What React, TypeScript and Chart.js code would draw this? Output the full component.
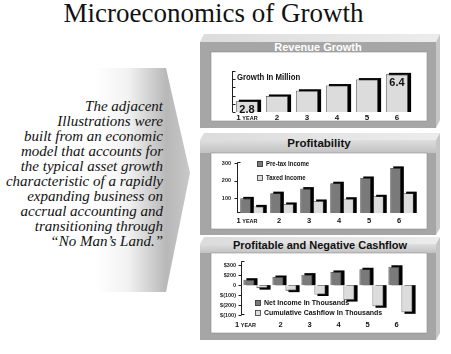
import React, { useEffect, useRef } from "react";
import { Chart, registerables } from "chart.js";
Chart.register(...registerables);

// ---------- data ----------
const years = ["1", "2", "3", "4", "5", "6"];
const yearWord = "YEAR";

const revenue = [2.8, 3.5, 4.2, 4.9, 5.7, 6.4];
const revenueLabels = ["2.8", "", "", "", "", "6.4"];
const revenueTicks = [1.35, 2.45, 3.55, 4.65, 5.75, 6.85];

const pretaxIncome = [98, 128, 154, 185, 215, 273];
const taxedIncome = [52, 66, 83, 96, 110, 128];
const profitTicks = [100, 200, 300];

const netIncome = [55, 82, 106, 133, 160, 185];
const cumulativeCashflow = [-30, -55, -94, -150, -212, -273];
const cashTickValues = [200, 100, 0, -100, -200, -300];
const cashTickLabels = ["$300", "$200", "0", "$(100)", "$(200)", "$(100)"];

const sideText = [
  "The adjacent",
  "Illustrations were",
  "built from an economic",
  "model that accounts for",
  "the typical asset growth",
  "characteristic of a rapidly",
  "expanding business on",
  "accrual accounting and",
  "transitioning through",
  "\u201CNo Man\u2019s Land.\u201D",
];

// ---------- styles ----------
const SANS = "'Liberation Sans', Arial, Helvetica, sans-serif";
const SERIF = "'Liberation Serif', 'Times New Roman', serif";
const DARK = "#7a7a7a";
const LIGHT = "#dcdcdc";
const EDGE = "#3a3a3a";

function narrowText(ctx: CanvasRenderingContext2D, text: string, x: number, y: number, sx: number) {
  ctx.save();
  ctx.translate(x, y);
  ctx.scale(sx, 1);
  ctx.fillText(text, 0, 0);
  ctx.restore();
}

// ---------- plugins ----------
const bar3d = {
  id: "bar3d",
  beforeDatasetsDraw(chart: any) {
    const ctx = chart.ctx;
    const ca = chart.chartArea;
    const dx = 3,
      dy = 1.5;
    ctx.save();
    ctx.beginPath();
    ctx.rect(ca.left, ca.top - 3, ca.right - ca.left + 6, ca.bottom - ca.top + 6);
    ctx.clip();
    ctx.fillStyle = "#000";
    const bottom = ca.bottom;
    chart.data.datasets.forEach((_: any, i: number) => {
      const meta = chart.getDatasetMeta(i);
      meta.data.forEach((el: any) => {
        const { x, y, base, width } = el.getProps(["x", "y", "base", "width"], true);
        const l = x - width / 2 + dx;
        if (y <= base) {
          const b = Math.min(base, bottom);
          ctx.fillRect(l, y - dy, width, b - y + dy);
        } else ctx.fillRect(l, base, width, y - base + dy);
      });
    });
    ctx.restore();
  },
};

const bracket = {
  id: "bracket",
  afterDatasetsDraw(chart: any, _a: any, o: any) {
    if (!o || !o.ticks) return;
    const s = chart.scales.y;
    const ca = chart.chartArea;
    const ctx = chart.ctx;
    const x = Math.round(ca.left + (o.shift || 0)) + 0.5;
    ctx.save();
    ctx.strokeStyle = "#222";
    ctx.lineWidth = 1;
    ctx.beginPath();
    ctx.moveTo(x, ca.top);
    ctx.lineTo(x, ca.bottom);
    o.ticks.forEach((v: number) => {
      const py = Math.round(s.getPixelForValue(v)) + 0.5;
      ctx.moveTo(x, py);
      ctx.lineTo(x + o.dir * o.len, py);
    });
    if (o.ends) {
      const t = Math.round(ca.top) + 0.5;
      const b = Math.round(ca.bottom) - 0.5;
      ctx.moveTo(x, t);
      ctx.lineTo(x + 3, t);
      ctx.moveTo(x, b);
      ctx.lineTo(x + 3, b);
    }
    ctx.stroke();
    ctx.restore();
  },
};

const yearLabels = {
  id: "yearLabels",
  afterDraw(chart: any, _a: any, o: any) {
    if (!o || !o.size) return;
    const s = chart.scales.x;
    const ctx = chart.ctx;
    const by = chart.chartArea.bottom + o.offset;
    ctx.save();
    ctx.fillStyle = "#111";
    ctx.textAlign = "left";
    ctx.textBaseline = "alphabetic";
    (chart.data.labels as string[]).forEach((lab, i) => {
      const cx = s.getPixelForValue(i) + (i === 0 ? o.shift0 || 0 : o.shift || 0);
      const main = String(lab);
      const suffix = i === 0 ? " " + yearWord : "";
      ctx.font = `bold ${o.size}px ${SANS}`;
      const w1 = ctx.measureText(main).width;
      ctx.font = `bold ${o.small}px ${SANS}`;
      const w2 = suffix ? ctx.measureText(suffix).width : 0;
      const start = cx - (w1 + w2) / 2;
      ctx.font = `bold ${o.size}px ${SANS}`;
      ctx.fillText(main, start, by);
      if (suffix) {
        ctx.font = `bold ${o.small}px ${SANS}`;
        ctx.fillText(suffix, start + w1, by);
      }
    });
    ctx.restore();
  },
};

const innerLegend = {
  id: "innerLegend",
  afterDraw(chart: any, _a: any, o: any) {
    if (!o || o.x === undefined) return;
    const ctx = chart.ctx;
    ctx.save();
    ctx.font = `bold ${o.size}px ${SANS}`;
    ctx.textBaseline = "middle";
    chart.data.datasets.forEach((ds: any, i: number) => {
      const y = o.y + i * o.step;
      ctx.fillStyle = ds.backgroundColor;
      ctx.fillRect(o.x, y, o.box, o.box);
      ctx.strokeStyle = EDGE;
      ctx.lineWidth = 0.8;
      ctx.strokeRect(o.x + 0.5, y + 0.5, o.box - 1, o.box - 1);
      ctx.fillStyle = "#111";
      narrowText(ctx, ds.label, o.x + o.box + 3, y + o.box / 2 + 0.5, o.sx);
    });
    ctx.restore();
  },
};

const captions = {
  id: "captions",
  afterDraw(chart: any, _a: any, o: any) {
    if (!o || !o.items) return;
    const ctx = chart.ctx;
    ctx.save();
    o.items.forEach((it: any) => {
      ctx.font = it.font;
      ctx.fillStyle = "#111";
      ctx.textAlign = "left";
      ctx.textBaseline = "middle";
      narrowText(ctx, it.text, it.x, it.y, it.sx);
    });
    if (o.values) {
      const meta = chart.getDatasetMeta(0);
      ctx.font = `bold 11px ${SANS}`;
      ctx.textAlign = "center";
      ctx.textBaseline = "top";
      meta.data.forEach((el: any, i: number) => {
        const t = o.values[i];
        if (!t) return;
        ctx.fillText(t, el.x, el.y + 3);
      });
    }
    ctx.restore();
  },
};

Chart.register(bar3d, bracket, yearLabels, innerLegend, captions);

// ---------- chart configs ----------
function revenueConfig(): any {
  return {
    type: "bar",
    data: {
      labels: years,
      datasets: [
        {
          label: "Revenue",
          data: revenue,
          backgroundColor: LIGHT,
          borderColor: EDGE,
          borderWidth: 0.8,
          barPercentage: 0.74,
          categoryPercentage: 1,
        },
      ],
    },
    options: {
      animation: false,
      responsive: false,
      devicePixelRatio: 1,
      layout: { padding: { left: 21, right: 15, top: 19, bottom: 9 } },
      scales: {
        x: { display: false },
        y: { display: false, min: 1.35, max: 6.85 },
      },
      plugins: {
        legend: { display: false },
        tooltip: { enabled: false },
        bracket: { ticks: revenueTicks, dir: 1, len: 3 },
        yearLabels: { size: 8, small: 5.5, offset: 8 },
        captions: {
          items: [{ text: "Growth In Million", x: 26, y: 25, font: `bold 9.5px ${SANS}`, sx: 0.82 }],
          values: revenueLabels,
        },
      },
    },
  };
}

function profitConfig(): any {
  return {
    type: "bar",
    data: {
      labels: years,
      datasets: [
        {
          label: "Pre-tax Income",
          data: pretaxIncome,
          backgroundColor: DARK,
          borderColor: EDGE,
          borderWidth: 0.8,
          barPercentage: 0.82,
          categoryPercentage: 0.86,
        },
        {
          label: "Taxed Income",
          data: taxedIncome,
          backgroundColor: LIGHT,
          borderColor: EDGE,
          borderWidth: 0.8,
          barPercentage: 0.82,
          categoryPercentage: 0.86,
        },
      ],
    },
    options: {
      animation: false,
      responsive: false,
      devicePixelRatio: 1,
      layout: { padding: { left: 0, right: 10, top: 5, bottom: 16 } },
      scales: {
        x: { display: false },
        y: {
          min: 14,
          max: 305,
          grid: { display: false, drawTicks: false },
          border: { display: false },
          afterFit: (s: any) => {
            s.width = 26;
          },
          afterBuildTicks: (s: any) => {
            s.ticks = profitTicks.map((v) => ({ value: v }));
          },
          ticks: {
            padding: 6,
            color: "#222",
            font: { family: SANS, size: 5.5, weight: "bold" },
          },
        },
      },
      plugins: {
        legend: { display: false },
        tooltip: { enabled: false },
        bracket: { ticks: profitTicks, dir: -1, len: 3, ends: true },
        yearLabels: { size: 7.5, small: 5.5, offset: 10, shift0: -5, shift: -3 },
        innerLegend: { x: 46, y: 8, step: 14, box: 6, size: 7, sx: 0.86 },
      },
    },
  };
}

function cashConfig(): any {
  return {
    type: "bar",
    data: {
      labels: years,
      datasets: [
        {
          label: "Net Income In Thousands",
          data: netIncome,
          backgroundColor: DARK,
          borderColor: EDGE,
          borderWidth: 0.8,
          barPercentage: 0.85,
          categoryPercentage: 0.9,
        },
        {
          label: "Cumulative Cashflow In Thousands",
          data: cumulativeCashflow,
          backgroundColor: LIGHT,
          borderColor: EDGE,
          borderWidth: 0.8,
          barPercentage: 0.85,
          categoryPercentage: 0.9,
        },
      ],
    },
    options: {
      animation: false,
      responsive: false,
      devicePixelRatio: 1,
      layout: { padding: { left: 0, right: 12, top: 4, bottom: 18 } },
      scales: {
        x: { display: false },
        y: {
          min: -300,
          max: 240,
          grid: { display: false, drawTicks: false },
          border: { display: false },
          afterFit: (s: any) => {
            s.width = 30;
          },
          afterBuildTicks: (s: any) => {
            s.ticks = cashTickValues.map((v) => ({ value: v }));
          },
          ticks: {
            padding: 5,
            color: "#222",
            font: { family: SANS, size: 5.5, weight: "bold" },
            callback: (v: any) => {
              const i = cashTickValues.indexOf(Number(v));
              return i >= 0 ? cashTickLabels[i] : "";
            },
          },
        },
      },
      plugins: {
        legend: { display: false },
        tooltip: { enabled: false },
        bracket: { ticks: cashTickValues, dir: -1, len: 3, ends: true },
        yearLabels: { size: 7.5, small: 5.5, offset: 12, shift0: -10, shift: -4 },
        innerLegend: { x: 44, y: 47, step: 10, box: 6, size: 7, sx: 1 },
      },
    },
  };
}

// ---------- components ----------
function ChartBox(props: { left: number; top: number; width: number; height: number; make: () => any }) {
  const ref = useRef<HTMLCanvasElement>(null);
  useEffect(() => {
    const chart = new Chart(ref.current as HTMLCanvasElement, props.make());
    return () => chart.destroy();
  }, []);
  return (
    <canvas
      ref={ref}
      width={props.width}
      height={props.height}
      style={{ position: "absolute", left: props.left, top: props.top, width: props.width, height: props.height }}
    />
  );
}

type PanelGeo = { L: number; T: number; R: number; B: number; d: number; wl: number; wt: number; wr: number; wb: number; light: boolean };

const panels: PanelGeo[] = [
  { L: 200, T: 34, R: 436, B: 128, d: 8, wl: 211, wt: 52, wr: 427, wb: 121, light: false },
  { L: 200, T: 133, R: 436, B: 235, d: 7, wl: 211, wt: 153, wr: 427, wb: 229, light: true },
  { L: 200, T: 237, R: 436, B: 340, d: 7, wl: 211, wt: 253, wr: 427, wb: 333, light: true },
];

function PanelShape({ p }: { p: PanelGeo }) {
  const { L, T, R, B, d } = p;
  return (
    <g>
      <polygon points={`${L},${T + d} ${L + 4},${T} ${R + 4},${T} ${R},${T + d}`} fill="url(#topGrad)" />
      <polygon points={`${R},${T + d} ${R + 4},${T} ${R + 4},${B - d} ${R},${B}`} fill="#c6c6c6" />
      <rect x={L} y={T + d} width={R - L} height={B - T - d} fill="#a6a6a6" />
      {p.light && <rect x={L} y={T + d} width={R - L} height={p.wt - T - d} fill="url(#bandGrad)" />}
      <rect x={p.wl} y={p.wt} width={p.wr - p.wl} height={p.wb - p.wt} fill="#fff" stroke="#8c8c8c" strokeWidth={0.6} />
    </g>
  );
}

function Title(props: { text: string; cx: number; cy: number; color: string; size: number }) {
  return (
    <div
      style={{
        position: "absolute",
        left: props.cx - 150,
        width: 300,
        top: props.cy - 8,
        lineHeight: "16px",
        height: 16,
        textAlign: "center",
        fontFamily: SANS,
        fontWeight: "bold",
        fontSize: props.size,
        color: props.color,
        whiteSpace: "nowrap",
      }}
    >
      {props.text}
    </div>
  );
}

export default function App() {
  return (
    <div style={{ position: "absolute", left: 0, top: 0, width: 451, height: 354, background: "#fff", overflow: "hidden" }}>
      <svg width={451} height={354} style={{ position: "absolute", left: 0, top: 0 }}>
        <defs>
          <linearGradient id="arrowGrad" x1="95" y1="0" x2="190" y2="0" gradientUnits="userSpaceOnUse">
            <stop offset="0" stopColor="#ffffff" />
            <stop offset="0.35" stopColor="#f2f2f2" />
            <stop offset="0.75" stopColor="#b8b8b8" />
            <stop offset="1" stopColor="#c8c8c8" />
          </linearGradient>
          <linearGradient id="topGrad" x1="0" y1="0" x2="1" y2="0">
            <stop offset="0" stopColor="#dcdcdc" />
            <stop offset="1" stopColor="#ececec" />
          </linearGradient>
          <linearGradient id="bandGrad" x1="0" y1="0" x2="0" y2="1">
            <stop offset="0" stopColor="#dedede" />
            <stop offset="1" stopColor="#c2c2c2" />
          </linearGradient>
        </defs>
        <polygon points="95,68 166,68 190,173 166,292 95,292" fill="url(#arrowGrad)" />
        {panels.map((p, i) => (
          <PanelShape key={i} p={p} />
        ))}
      </svg>

      <div
        style={{
          position: "absolute",
          left: 0,
          top: 0,
          width: 427,
          textAlign: "center",
          fontFamily: SERIF,
          fontSize: 27,
          lineHeight: "27px",
          color: "#111",
          whiteSpace: "nowrap",
        }}
      >
        Microeconomics of Growth
      </div>

      <div
        style={{
          position: "absolute",
          right: 451 - 163,
          top: 99,
          textAlign: "right",
          fontFamily: SERIF,
          fontStyle: "italic",
          fontSize: 15,
          lineHeight: "15px",
          color: "#111",
          whiteSpace: "nowrap",
        }}
      >
        {sideText.map((t, i) => (
          <div key={i}>{t}</div>
        ))}
      </div>

      <Title text="Revenue Growth" cx={318} cy={47} color="#ffffff" size={11} />
      <Title text="Profitability" cx={319} cy={143} color="#111" size={11.5} />
      <Title text="Profitable and Negative Cashflow" cx={320} cy={245} color="#111" size={11} />

      <ChartBox left={211} top={52} width={216} height={69} make={revenueConfig} />
      <ChartBox left={211} top={153} width={216} height={76} make={profitConfig} />
      <ChartBox left={211} top={253} width={216} height={80} make={cashConfig} />
    </div>
  );
}
